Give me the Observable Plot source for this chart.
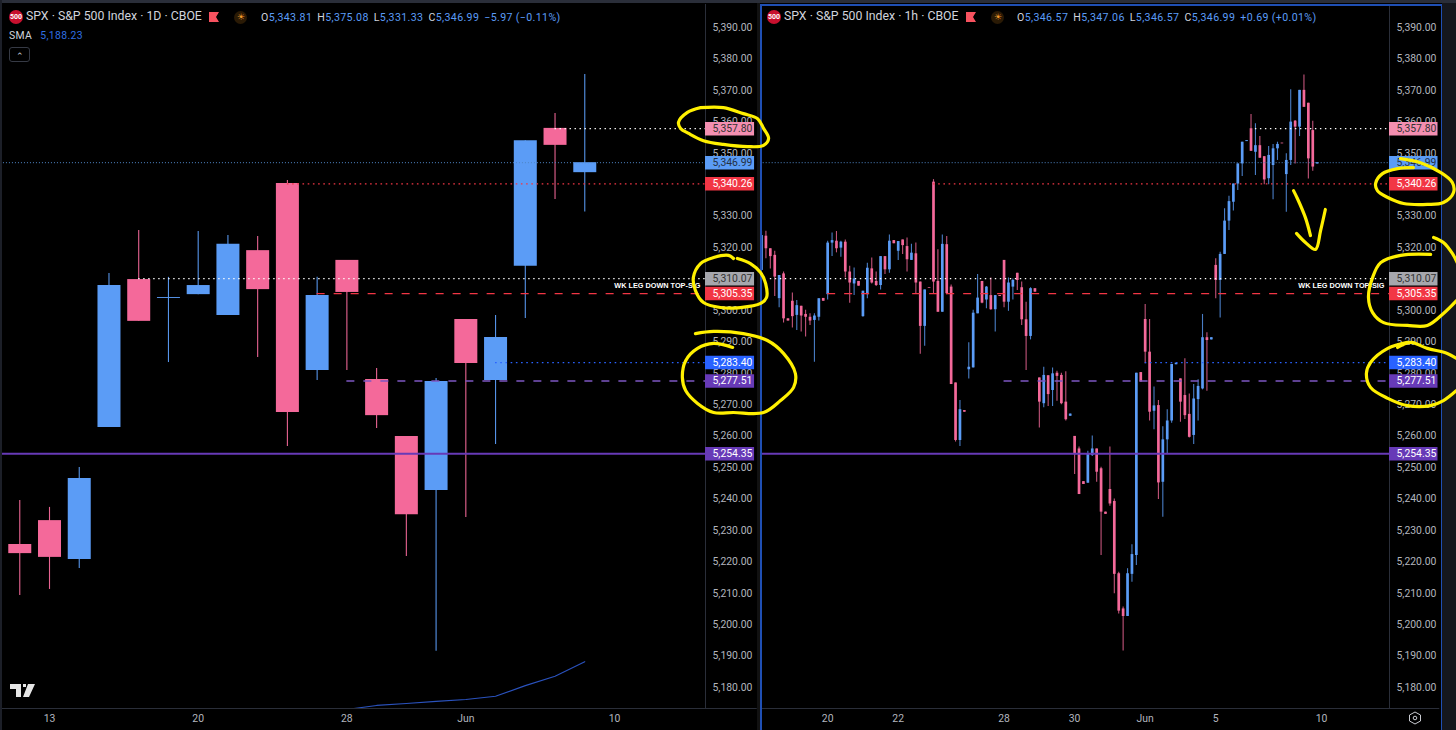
<!DOCTYPE html>
<html><head><meta charset="utf-8">
<style>
html,body{margin:0;padding:0;background:#000;width:1456px;height:730px;overflow:hidden}
body{position:relative;font-family:Roboto,sans-serif}
.abs{position:absolute}
.pane{position:absolute;top:0}
.pane svg,.pane figure{display:block;margin:0}
.title{position:absolute;font-size:12.3px;color:#d1d4dc;white-space:nowrap;line-height:15px}
.ohlc{position:absolute;font-size:10.6px;color:#d1d4dc;white-space:nowrap;letter-spacing:.035em}
.ohlc b{font-weight:400;color:#5b9cf6;margin-right:5px}
.logo500{position:absolute;width:14px;height:14px;border-radius:50%;background:#c8102e;color:#fff;font-size:7px;font-weight:700;text-align:center;line-height:14px}
.flag{position:absolute;width:10px;height:10px;background:#f7525f;clip-path:polygon(0 0,100% 0,70% 50%,100% 100%,0 100%)}
.sun{position:absolute;width:13px;height:13px;border-radius:50%;background:#2a1a05;color:#f29b2b;font-size:9px;line-height:13px;text-align:center}
</style>
<script src="https://cdn.jsdelivr.net/npm/d3@7"></script>
<script src="https://cdn.jsdelivr.net/npm/@observablehq/plot@0.6"></script>
</head><body>
<div id="root"></div>
<script>
// ---------- daily candles (left chart) ----------
const dOpen  = [5225.5,5233.1,5220.7,5262.7,5309.8,5303.8,5305.0,5298.4,5319.0,5340.4,5280.9,5315.9,5278.0,5259.9,5242.7,5297.1,5277.7,5314.0,5357.9,5343.81];
const dHigh  = [5239.5,5237.3,5250.0,5311.7,5325.4,5310.5,5325.1,5323.8,5323.5,5341.3,5310.5,5315.9,5281.5,5259.9,5278.3,5297.1,5298.4,5354.0,5362.6,5375.08];
const dLow   = [5209.3,5211.2,5217.9,5262.7,5296.5,5283.4,5305.0,5298.4,5285.0,5256.7,5277.7,5280.9,5262.4,5221.7,5191.5,5234.1,5257.3,5297.4,5335.3,5331.33];
const dClose = [5222.6,5221.4,5246.5,5307.9,5296.5,5304.1,5307.9,5321.0,5306.6,5267.5,5304.7,5305.7,5266.5,5235.0,5277.4,5283.1,5291.4,5354.0,5352.5,5346.99];

// ---------- SMA on the daily chart ----------
const smaBar   = [11,12,13,14,15,16,17,18,19];
const smaValue = [5173.0,5174.3,5174.9,5175.6,5176.2,5177.2,5180.6,5183.6,5188.23];

// ---------- hourly candles (right chart) ----------
const hOpen = [5312.7,5323.6,5319.6,5317.5,5303.7,5311.6,5297.3,5302.9,5298.4,5301.3,5298.7,5297.8,5296.8,5297.8,5303.8,5305.0,5321.4,5322.0,5319.8,5321.7,5312.2,5308.4,5309.2,5298.0,5305.0,5313.2,5309.2,5307.9,5317.1,5312.9,5322.2,5318.8,5322.4,5320.3,5315.9,5318.0,5309.0,5294.9,5307.2,5340.8,5309.2,5299.4,5320.9,5307.4,5276.9,5258.6,5268.1,5281.1,5281.7,5298.9,5309.2,5303.3,5304.7,5300.2,5304.7,5315.9,5302.6,5307.4,5311.8,5307.2,5297.0,5291.7,5306.9,5278.5,5270.3,5279.2,5274.5,5280.0,5279.3,5270.8,5266.3,5259.9,5255.9,5245.5,5245.0,5253.8,5255.9,5249.6,5235.8,5243.0,5239.2,5216.2,5205.0,5202.6,5216.0,5222.0,5280.2,5297.1,5286.7,5267.9,5269.7,5245.3,5258.8,5264.8,5282.7,5278.2,5272.9,5266.9,5260.2,5271.6,5275.0,5291.3,5290.6,5314.3,5309.5,5317.8,5328.4,5334.4,5340.2,5346.6,5353.7,5357.8,5350.3,5352.4,5348.9,5341.9,5346.1,5351.4,5353.2,5343.2,5347.7,5360.2,5358.3,5370.0,5365.9,5357.2,5346.57];
const hHigh = [5325.2,5325.2,5319.6,5318.8,5303.7,5312.2,5297.3,5305.5,5303.1,5301.3,5300.0,5298.9,5298.9,5303.7,5303.8,5322.0,5324.6,5325.1,5322.0,5322.4,5314.0,5313.5,5309.2,5306.1,5315.0,5316.7,5312.2,5317.1,5317.1,5324.0,5322.2,5321.9,5322.4,5323.0,5321.0,5321.4,5309.0,5306.5,5307.2,5341.6,5319.3,5324.0,5323.5,5308.1,5276.9,5271.3,5268.1,5289.7,5300.0,5311.4,5309.2,5307.6,5310.3,5304.7,5304.7,5315.9,5310.3,5310.0,5311.8,5309.0,5302.6,5307.2,5306.9,5278.5,5281.9,5279.2,5281.7,5280.6,5280.0,5280.5,5267.0,5259.9,5256.5,5245.5,5255.2,5260.0,5255.9,5250.1,5235.8,5256.5,5240.0,5216.7,5205.6,5217.8,5225.4,5280.0,5280.2,5301.9,5297.1,5275.6,5271.3,5263.0,5268.4,5282.8,5283.2,5278.2,5284.6,5273.4,5276.4,5277.9,5298.7,5292.9,5291.3,5316.4,5318.5,5332.3,5336.3,5340.2,5346.6,5353.5,5354.0,5362.3,5359.4,5355.3,5348.9,5352.1,5352.8,5353.5,5353.2,5349.8,5370.2,5360.4,5370.0,5374.9,5365.9,5360.2,5347.06];
const hLow  = [5312.7,5316.4,5313.2,5304.4,5300.8,5296.0,5296.6,5294.4,5293.6,5293.1,5291.5,5295.2,5283.5,5296.6,5302.9,5303.3,5317.1,5318.3,5316.9,5310.3,5302.3,5304.7,5307.7,5297.8,5303.7,5308.4,5307.6,5306.5,5311.4,5311.8,5321.2,5315.9,5317.8,5312.2,5315.9,5305.3,5286.0,5288.6,5307.0,5305.3,5299.4,5299.4,5305.0,5276.4,5258.1,5256.7,5267.6,5278.2,5281.7,5298.9,5302.1,5300.5,5300.0,5293.1,5304.4,5300.8,5299.7,5303.3,5306.3,5295.2,5280.9,5290.6,5305.8,5262.6,5269.0,5269.4,5269.4,5271.1,5270.0,5264.8,5266.3,5247.8,5241.4,5244.6,5245.0,5253.5,5245.3,5222.0,5235.1,5237.7,5209.8,5203.4,5191.6,5202.6,5213.5,5218.8,5277.2,5283.0,5264.8,5262.0,5239.8,5234.2,5254.4,5264.1,5282.7,5264.4,5265.3,5259.4,5257.3,5264.8,5274.7,5274.3,5290.6,5303.7,5297.6,5317.8,5325.4,5331.6,5338.1,5342.6,5353.7,5350.6,5342.9,5348.4,5340.0,5340.0,5335.2,5347.7,5353.0,5331.2,5346.1,5346.6,5355.3,5364.6,5341.8,5344.3,5346.57];
const hClose= [5323.8,5319.6,5317.1,5310.6,5311.1,5297.3,5296.6,5298.0,5301.5,5298.2,5297.8,5296.6,5298.2,5303.7,5302.9,5321.4,5322.2,5319.6,5321.7,5312.2,5308.7,5310.0,5307.7,5306.1,5313.4,5308.7,5307.9,5317.1,5312.9,5322.0,5321.2,5321.9,5320.6,5316.1,5318.2,5308.7,5294.9,5306.5,5307.0,5309.0,5299.4,5321.0,5305.3,5276.4,5258.6,5268.4,5267.6,5281.9,5299.1,5303.9,5302.3,5307.4,5300.2,5304.7,5304.4,5302.6,5308.7,5309.5,5309.5,5297.0,5291.7,5306.9,5305.8,5270.8,5279.3,5273.2,5279.8,5279.0,5270.3,5265.2,5267.0,5254.1,5241.4,5244.6,5254.4,5255.9,5248.5,5235.8,5235.1,5238.4,5216.0,5204.3,5202.6,5216.2,5222.3,5280.0,5277.2,5286.7,5267.6,5269.6,5245.1,5258.8,5264.8,5282.8,5283.2,5270.8,5266.5,5259.6,5271.8,5275.8,5291.3,5290.4,5291.3,5309.5,5317.8,5328.4,5334.6,5340.2,5346.6,5353.5,5354.0,5350.6,5352.4,5348.4,5341.5,5349.3,5351.4,5352.8,5353.0,5347.7,5359.9,5358.3,5370.0,5364.6,5348.2,5345.6,5346.99];

// ---------- price axis and time axis ----------
const priceTicks = [5180,5190,5200,5210,5220,5230,5240,5250,5260,5270,5280,5290,5300,5310,5320,5330,5340,5350,5360,5370,5380,5390];
const dTickBars = [1,6,11,15,20];
const dTickText = ["13","20","28","Jun","10"];
const hTickBars = [15,31,55,71,87,103,127];
const hTickText = ["20","22","28","30","Jun","5","10"];

// ---------- horizontal levels: price, first bar on each chart ----------
const levelPrice   = [5357.80,5346.99,5340.26,5310.07,5305.35,5283.40,5277.51,5254.35];
const levelKind    = ["whiteDot","blueDot","redDot","whiteDot","redDash","royalDot","purpleDash","purpleSolid"];
const dLevelStart  = [18,-0.65,9,4,10,16,11,-0.65];
const hLevelStart  = [112,-0.3,39,2,15,87,55,-0.3];
const tagFill = ["#f48fb1","#5b9cf6","#f23645","#a6a7ad","#f23645","#2962ff","#673ab7","#673ab7"];
const tagText = ["#333","#243044","#fff","#333","#fff","#fff","#fff","#fff"];
const noteText = "WK LEG DOWN TOP-SIG";
const notePrice = 5305.35;

// ---------- yellow hand-drawn ink: [bar on the left chart's time scale, price] ----------
const inkA = [[22.89,5364.5],[23.66,5364.5],[24.33,5362.6],[24.81,5361.0],[25.01,5357.9],[25.18,5354.7],[25.01,5352.5],[24.47,5352.1],[23.66,5352.8],[22.99,5354.0],[22.49,5356.3],[22.22,5357.9],[22.15,5359.8],[22.45,5363.0],[22.89,5364.5]];
const inkB = [[24.0,5316.5],[23.83,5317.5],[23.33,5316.8],[22.89,5314.9],[22.65,5310.5],[22.72,5306.3],[22.99,5302.5],[23.56,5300.9],[24.23,5300.9],[24.91,5302.2],[25.11,5304.1],[25.08,5308.5],[24.91,5312.0],[24.57,5314.9],[24.13,5316.5]];
const inkC = [[22.72,5292.6],[23.33,5293.3],[24.33,5292.6],[25.14,5290.4],[25.68,5286.3],[26.08,5279.9],[26.02,5275.5],[25.58,5271.3],[25.01,5267.5],[24.0,5267.5],[23.33,5267.5],[22.79,5270.4],[22.39,5274.5],[22.28,5278.6],[22.39,5284.0],[22.79,5287.9],[23.33,5289.5],[23.97,5288.2]];
const inkD1 = [[42.83,5338.1],[42.96,5335.6],[43.23,5329.5],[43.4,5323.8]];
const inkD2 = [[42.93,5324.5],[43.23,5321.6],[43.57,5319.4],[43.74,5325.4],[43.9,5332.1]];
const inkE = [[46.43,5348.3],[47.1,5347.0],[47.77,5343.9],[48.17,5340.7],[48.21,5337.5],[47.87,5334.3],[47.33,5333.7],[46.53,5334.0],[46.0,5335.9],[45.65,5338.1],[45.59,5340.4],[45.82,5343.5],[46.33,5345.1],[46.86,5345.4]];
const inkF = [[47.44,5317.8],[46.43,5317.5],[45.76,5315.2],[45.49,5310.5],[45.35,5304.1],[45.49,5299.3],[45.86,5296.1],[46.66,5295.2],[47.33,5295.2],[47.87,5299.0],[48.31,5303.1]];
const inkF2 = [[47.54,5323.2],[47.87,5321.6],[48.17,5318.1],[48.38,5314.3]];
const inkG1 = [[46.33,5288.2],[46.76,5289.8],[47.33,5287.9],[48.0,5286.3],[48.31,5284.7]];
const inkG2 = [[46.66,5289.8],[46.0,5287.9],[45.42,5283.4],[45.28,5279.9],[45.42,5275.5],[46.0,5272.0],[46.66,5269.7],[47.44,5269.7],[47.87,5271.3],[48.31,5274.5]];

// ---------- colours ----------
const upColor = "#5b9cf6", downColor = "#f4699a";
const kindStyle = {
  whiteDot:{stroke:"#fff",strokeDasharray:"1.4,3.6",strokeWidth:1.3},
  blueDot:{stroke:"#4f86c6",strokeDasharray:"1,2",strokeWidth:1},
  redDot:{stroke:"#f23645",strokeDasharray:"1.6,3.6",strokeWidth:1.3},
  redDash:{stroke:"#f23645",strokeDasharray:"8,9",strokeWidth:1.3},
  royalDot:{stroke:"#2962ff",strokeDasharray:"1.6,3.6",strokeWidth:1.3},
  purpleDash:{stroke:"#7e57c2",strokeDasharray:"8,9",strokeWidth:1.5},
  purpleSolid:{stroke:"#673ab7",strokeWidth:2}
};

const priceDomain = [5173.32,5397.32];
const font = "Roboto, sans-serif";

function pane(o){
  const bars = d3.range(o.open.length).map(i=>({i,open:o.open[i],high:o.high[i],low:o.low[i],close:o.close[i],
    color:o.close[i]>=o.open[i]?upColor:downColor,
    top:Math.max(o.open[i],o.close[i]),bot:Math.min(o.open[i],o.close[i])}));
  const end = o.xDomain[1];
  const tags = levelPrice.map((p,k)=>({p,fill:tagFill[k],text:tagText[k],label:d3.format(",.2f")(p)}));
  const marks = [
    Plot.ruleX(bars,{x:"i",y1:"low",y2:"high",stroke:"color",strokeWidth:o.wickW,strokeOpacity:o.wickOpacity,clip:true}),
    Plot.ruleX(bars,{x:"i",y1:"bot",y2:"top",stroke:"color",strokeWidth:o.bodyW,clip:true}),
    ...(o.sma?[Plot.line(o.sma,{x:"x",y:"y",stroke:"#2a52be",strokeWidth:1.1,clip:true})]:[]),
    ...levelPrice.map((p,k)=>Plot.ruleY([p],{y:d=>d,x1:o.levelStart[k],x2:end,...kindStyle[levelKind[k]]})),
    Plot.text([noteText],{x:end,y:notePrice,text:d=>d,textAnchor:"end",dx:o.noteDx,dy:-7.5,fill:"#fff",fontWeight:"700",fontSize:o.noteSize,fontFamily:"Liberation Sans, sans-serif"}),
    Plot.ruleX([end],{x:d=>d,y1:priceDomain[0],y2:priceDomain[1],stroke:"#2a2e39"}),
    Plot.ruleY([priceDomain[0]],{y:d=>d,x1:o.xDomain[0],x2:o.axisEnd,stroke:"#2a2e39"}),
    Plot.axisY(priceTicks,{anchor:"right",tickSize:0,tickPadding:7,label:null,tickFormat:d3.format(",.2f"),fill:"#b2b5be",fontSize:10.4,fontFamily:font}),
    Plot.axisX(o.tickBars,{anchor:"bottom",tickSize:0,tickPadding:6,label:null,tickFormat:d=>o.tickText[o.tickBars.indexOf(d)],fill:"#b2b5be",fontSize:10.4,fontFamily:font}),
    Plot.ruleY(tags,{y:"p",x1:end,x2:o.tagEnd,stroke:"fill",strokeWidth:13.5}),
    Plot.text(tags,{x:end,y:"p",text:"label",dx:7,textAnchor:"start",fill:"text",fontSize:10.4,fontFamily:font})
  ];
  return Plot.plot({
    width:o.width,height:730,marginLeft:0,marginRight:o.marginRight,marginTop:4,marginBottom:22,
    style:{background:"transparent",overflow:"visible"},
    x:{domain:o.xDomain,axis:null},y:{domain:priceDomain,axis:null},color:{type:"identity"},
    marks
  });
}

const root = document.getElementById("root");
function place(node,left,z){
  const d=document.createElement("div");d.className="pane";d.style.left=left+"px";d.style.zIndex=z||1;d.appendChild(node);root.appendChild(d);
}
place(pane({open:dOpen,high:dHigh,low:dLow,close:dClose,xDomain:[-0.648,23.06],tagEnd:24.71,axisEnd:24.8,width:757,marginRight:52,
  bodyW:23,wickW:1.1,wickOpacity:0.95,tickBars:dTickBars,tickText:dTickText,levelStart:dLevelStart,noteDx:-5,noteSize:7.3,
  sma:smaBar.map((x,k)=>({x,y:smaValue[k]}))}),0,1);
place(pane({open:hOpen,high:hHigh,low:hLow,close:hClose,xDomain:[-0.227,142.4],tagEnd:153.4,axisEnd:153.8,width:680,marginRight:51,
  bodyW:2.7,wickW:1.1,wickOpacity:0.8,tickBars:hTickBars,tickText:hTickText,levelStart:hLevelStart,noteDx:-5,noteSize:7.3}),760,1);

// yellow ink across both charts
const ink = Plot.plot({width:1456,height:730,marginLeft:0,marginRight:0,marginTop:4,marginBottom:22,
  style:{background:"transparent",overflow:"visible"},
  x:{domain:[-0.648,48.31],axis:null},y:{domain:priceDomain,axis:null},
  marks:[inkA,inkB,inkC,inkD1,inkD2,inkE,inkF,inkF2,inkG1,inkG2].map(a=>
    Plot.line(a,{x:d=>d[0],y:d=>d[1],curve:"catmull-rom",stroke:"#fff000",strokeWidth:3.2,strokeLinecap:"round",strokeLinejoin:"round"}))
});

// chrome
const chrome = `
<div class="abs" style="left:0;top:0;width:1456px;height:3px;background:#2a2e39"></div>
<div class="abs" style="left:0;top:0;width:2px;height:730px;background:#1c1f28"></div>
<div class="abs" style="left:1442px;top:3px;width:14px;height:727px;background:#15171d"></div>
<div class="abs" style="left:757px;top:3px;width:3px;height:727px;background:#111"></div>
<div class="abs" style="left:760px;top:4px;width:679px;height:724px;border:2px solid #1f4fb4;box-sizing:content-box;z-index:2"></div>
<div class="logo500" style="left:9px;top:10px">500</div>
<div class="title" style="left:26px;top:9px">SPX · S&amp;P 500 Index · 1D · CBOE</div>
<div class="flag" style="left:209px;top:12px"></div>
<div class="sun" style="left:234px;top:11px">☀</div>
<div class="ohlc" style="left:261px;top:11px">O<b>5,343.81</b>H<b>5,375.08</b>L<b>5,331.33</b>C<b>5,346.99</b><b>−5.97 (−0.11%)</b></div>
<div class="ohlc" style="left:9px;top:29px;font-size:10.4px">SMA<b style="margin-left:8px;color:#2f6fe0">5,188.23</b></div>
<div class="abs" style="left:9px;top:47px;width:21px;height:15px;border:1px solid #363a45;border-radius:3px;color:#d1d4dc;font-size:9px;text-align:center;line-height:17px;box-sizing:border-box">⌃</div>
<div class="logo500" style="left:767px;top:10px">500</div>
<div class="title" style="left:784px;top:9px">SPX · S&amp;P 500 Index · 1h · CBOE</div>
<div class="flag" style="left:966px;top:12px"></div>
<div class="sun" style="left:991px;top:11px">☀</div>
<div class="ohlc" style="left:1017px;top:11px">O<b>5,346.57</b>H<b>5,347.06</b>L<b>5,346.57</b>C<b>5,346.99</b><b>+0.69 (+0.01%)</b></div>
<svg class="abs" style="left:10px;top:684px" width="26" height="14" viewBox="0 0 26 14"><path fill="#e6e6e6" d="M0 0H11V13H6V5H0ZM13 0H16V3H13ZM18 0H25L19 13H13Z"/></svg>
<svg class="abs" style="left:1408px;top:711px" width="14" height="14" viewBox="0 0 14 14" fill="none" stroke="#c8cad0"><path d="M7 1L12.5 4V10L7 13L1.5 10V4Z"/><circle cx="7" cy="7" r="1.8"/></svg>`;
const c=document.createElement("div");c.innerHTML=chrome;
while(c.firstChild){const n=c.firstChild;c.removeChild(n);if(n.nodeType===1&&(n.style.zIndex==="")){n.style.zIndex=3}root.appendChild(n)}
place(ink,0,5);
</script>
</body></html>
